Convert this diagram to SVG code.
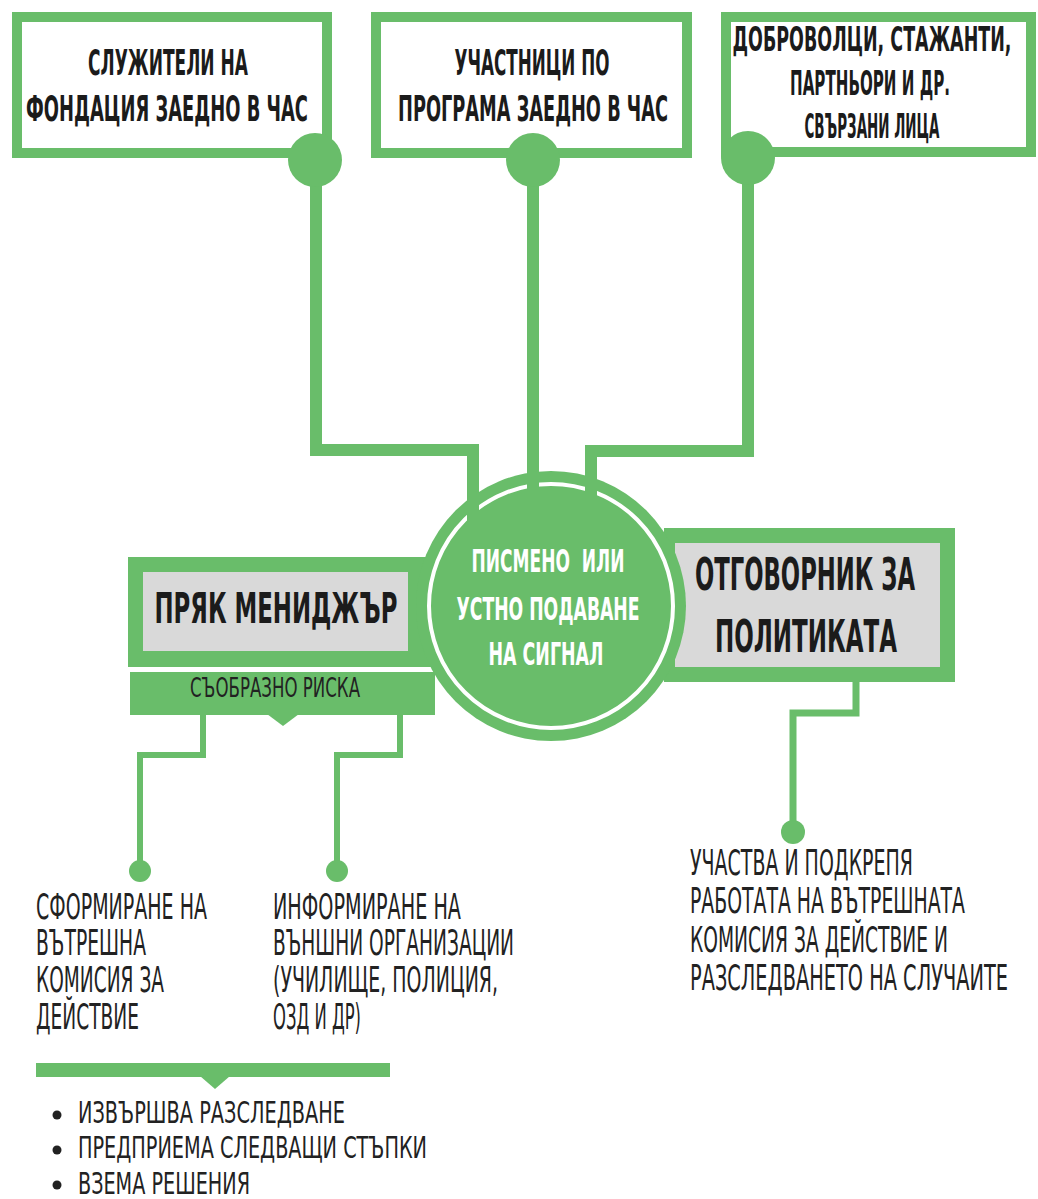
<svg xmlns="http://www.w3.org/2000/svg" width="1038" height="1199" viewBox="0 0 1038 1199">
<style>
.bg{fill:#ffffff}
.g{fill:#69BD6A}
.box{fill:#ffffff;stroke:#69BD6A;stroke-width:10}
.gray{fill:#D9D9D9}
.ring{fill:none;stroke:#ffffff;stroke-width:4}
.ln{fill:none;stroke:#69BD6A;stroke-width:12;stroke-linejoin:miter}
.thin{fill:none;stroke:#69BD6A;stroke-width:6;stroke-linejoin:miter}
.t{font-family:"Liberation Sans Narrow","DejaVu Sans Condensed","Liberation Sans",sans-serif;font-weight:bold;fill:#1b1b1b;text-anchor:middle}
.w{fill:#ffffff}
.r{font-family:"Liberation Sans Narrow","DejaVu Sans Condensed","Liberation Sans",sans-serif;font-weight:normal;fill:#222222}
</style>
<rect class="bg" x="0" y="0" width="1038" height="1199"/>

<g id="node-staff">
<rect class="box" x="17" y="17" width="310" height="136"/>
<text class="t" transform="translate(168,75) scale(1,1.5)" font-size="24.2" textLength="160" lengthAdjust="spacingAndGlyphs">СЛУЖИТЕЛИ НА</text>
<text class="t" transform="translate(167,121) scale(1,1.5)" font-size="24.2" textLength="282" lengthAdjust="spacingAndGlyphs">ФОНДАЦИЯ ЗАЕДНО В ЧАС</text>
</g>

<g id="node-participants">
<rect class="box" x="376" y="17" width="311" height="136"/>
<text class="t" transform="translate(532,75) scale(1,1.5)" font-size="24.2" textLength="155" lengthAdjust="spacingAndGlyphs">УЧАСТНИЦИ ПО</text>
<text class="t" transform="translate(533,121) scale(1,1.5)" font-size="24.2" textLength="270" lengthAdjust="spacingAndGlyphs">ПРОГРАМА ЗАЕДНО В ЧАС</text>
</g>

<g id="node-volunteers">
<rect class="box" x="726" y="17" width="305" height="135"/>
<text class="t" transform="translate(872,51) scale(1,1.6)" font-size="20.9" textLength="279" lengthAdjust="spacingAndGlyphs">ДОБРОВОЛЦИ, СТАЖАНТИ,</text>
<text class="t" transform="translate(870,95) scale(1,1.6)" font-size="20.9" textLength="160" lengthAdjust="spacingAndGlyphs">ПАРТНЬОРИ И ДР.</text>
<text class="t" transform="translate(872,138) scale(1,1.6)" font-size="20.9" textLength="135" lengthAdjust="spacingAndGlyphs">СВЪРЗАНИ ЛИЦА</text>
</g>

<g id="node-manager">
<rect class="g" x="128" y="557" width="312" height="110"/>
<rect class="gray" x="143" y="572" width="265" height="79"/>
<text class="t" transform="translate(276,623) scale(1,1.5)" font-size="28.9" textLength="243" lengthAdjust="spacingAndGlyphs">ПРЯК МЕНИДЖЪР</text>
<rect class="g" x="130" y="672" width="305" height="43"/>
<polygon class="g" points="267,714 299,714 283,726"/>
<text class="r w" transform="translate(275,697) scale(1,1.4)" font-size="19" text-anchor="middle" textLength="170" lengthAdjust="spacingAndGlyphs">СЪОБРАЗНО РИСКА</text>
</g>

<g id="node-officer">
<rect class="g" x="664" y="528" width="291" height="154"/>
<rect class="gray" x="675" y="543" width="265" height="124"/>
<text class="t" transform="translate(805,590) scale(1,1.5)" font-size="29.8" textLength="220" lengthAdjust="spacingAndGlyphs">ОТГОВОРНИК ЗА</text>
<text class="t" transform="translate(806,652) scale(1,1.5)" font-size="29.8" textLength="182" lengthAdjust="spacingAndGlyphs">ПОЛИТИКАТА</text>
</g>

<g id="node-signal">
<circle class="g" cx="551" cy="606" r="135"/>
<circle class="ring" cx="551" cy="606" r="122"/>
<text class="t w" transform="translate(548,572) scale(1,1.5)" font-size="21.4" xml:space="preserve" textLength="153" lengthAdjust="spacingAndGlyphs">ПИСМЕНО  ИЛИ</text>
<text class="t w" transform="translate(548,620) scale(1,1.5)" font-size="21.4" textLength="183" lengthAdjust="spacingAndGlyphs">УСТНО ПОДАВАНЕ</text>
<text class="t w" transform="translate(546,665) scale(1,1.5)" font-size="21.4" textLength="115" lengthAdjust="spacingAndGlyphs">НА СИГНАЛ</text>
</g>

<g id="node-commission">
<text class="r" transform="translate(36,919) scale(1,1.4)" font-size="25" textLength="171" lengthAdjust="spacingAndGlyphs">СФОРМИРАНЕ НА</text>
<text class="r" transform="translate(36,955) scale(1,1.4)" font-size="25" textLength="110" lengthAdjust="spacingAndGlyphs">ВЪТРЕШНА</text>
<text class="r" transform="translate(36,992) scale(1,1.4)" font-size="25" textLength="128" lengthAdjust="spacingAndGlyphs">КОМИСИЯ ЗА</text>
<text class="r" transform="translate(36,1029) scale(1,1.4)" font-size="25" textLength="103" lengthAdjust="spacingAndGlyphs">ДЕЙСТВИЕ</text>
</g>

<g id="node-external">
<text class="r" transform="translate(273,919) scale(1,1.4)" font-size="25" textLength="188" lengthAdjust="spacingAndGlyphs">ИНФОРМИРАНЕ НА</text>
<text class="r" transform="translate(273,955) scale(1,1.4)" font-size="25" textLength="241" lengthAdjust="spacingAndGlyphs">ВЪНШНИ ОРГАНИЗАЦИИ</text>
<text class="r" transform="translate(273,992) scale(1,1.4)" font-size="25" textLength="225" lengthAdjust="spacingAndGlyphs">(УЧИЛИЩЕ, ПОЛИЦИЯ,</text>
<text class="r" transform="translate(273,1029) scale(1,1.4)" font-size="25" textLength="88" lengthAdjust="spacingAndGlyphs">ОЗД И ДР)</text>
</g>

<g id="node-support">
<text class="r" transform="translate(690,875) scale(1,1.59)" font-size="22" textLength="223" lengthAdjust="spacingAndGlyphs">УЧАСТВА И ПОДКРЕПЯ</text>
<text class="r" transform="translate(690,913) scale(1,1.59)" font-size="22" textLength="275" lengthAdjust="spacingAndGlyphs">РАБОТАТА НА ВЪТРЕШНАТА</text>
<text class="r" transform="translate(690,952) scale(1,1.59)" font-size="22" textLength="258" lengthAdjust="spacingAndGlyphs">КОМИСИЯ ЗА ДЕЙСТВИЕ И</text>
<text class="r" transform="translate(690,990) scale(1,1.59)" font-size="22" textLength="318" lengthAdjust="spacingAndGlyphs">РАЗСЛЕДВАНЕТО НА СЛУЧАИТЕ</text>
</g>

<g id="node-actions">
<rect class="g" x="36" y="1063" width="354" height="14"/>
<polygon class="g" points="200,1076 230,1076 215,1089"/>
<circle cx="57" cy="1115" r="4.5" fill="#222222"/>
<circle cx="57" cy="1150" r="4.5" fill="#222222"/>
<circle cx="57" cy="1185" r="4.5" fill="#222222"/>
<text class="r" transform="translate(78,1123) scale(1,1.4)" font-size="22" textLength="267" lengthAdjust="spacingAndGlyphs">ИЗВЪРШВА РАЗСЛЕДВАНЕ</text>
<text class="r" transform="translate(78,1158) scale(1,1.4)" font-size="22" textLength="349" lengthAdjust="spacingAndGlyphs">ПРЕДПРИЕМА СЛЕДВАЩИ СТЪПКИ</text>
<text class="r" transform="translate(78,1194) scale(1,1.4)" font-size="22" textLength="172" lengthAdjust="spacingAndGlyphs">ВЗЕМА РЕШЕНИЯ</text>
</g>

<g id="connectors">
<path class="ln" d="M316,160 V450 H473 V530"/>
<path class="ln" d="M533,160 V530"/>
<path class="ln" d="M748,158 V451 H591 V530"/>
<circle class="g" cx="315" cy="160" r="27"/>
<circle class="g" cx="533" cy="160" r="27"/>
<circle class="g" cx="748" cy="158" r="27"/>
<path class="thin" d="M203,714 V755 H140 V871"/>
<circle class="g" cx="140" cy="871" r="11"/>
<path class="thin" d="M400,714 V755 H337 V871"/>
<circle class="g" cx="337" cy="871" r="11"/>
<path class="thin" style="stroke-width:7" d="M856,682 V713 H793 V832"/>
<circle class="g" cx="793" cy="832" r="12"/>
</g>
</svg>
